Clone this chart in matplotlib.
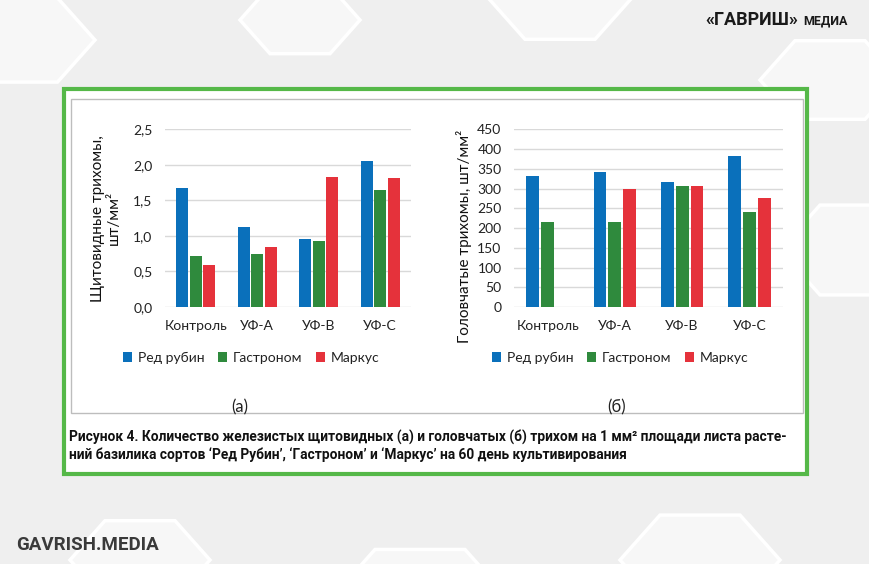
import numpy as np
import matplotlib
matplotlib.use('Agg')
import matplotlib.pyplot as plt
from matplotlib.patches import Rectangle, RegularPolygon

plt.rcParams['font.family'] = ['Lato', 'DejaVu Sans']

# data
categories = ['Контроль', 'УФ-А', 'УФ-В', 'УФ-С']
varieties = ['Ред рубин', 'Гастроном', 'Маркус']
colors = ['#0a70bb', '#2f8a3d', '#e5323b']

# (а) щитовидные трихомы, шт/мм2
peltate = {
    'Ред рубин': [1.67, 1.13, 0.95, 2.06],
    'Гастроном': [0.72, 0.75, 0.93, 1.65],
    'Маркус':    [0.59, 0.84, 1.83, 1.81],
}
# (б) головчатые трихомы, шт/мм2
capitate = {
    'Ред рубин': [333, 341, 316, 382],
    'Гастроном': [214, 214, 306, 241],
    'Маркус':    [0, 298, 307, 277],
}

left_ticks = [0, 0.5, 1.0, 1.5, 2.0, 2.5]
left_ticklabels = ['0,0', '0,5', '1,0', '1,5', '2,0', '2,5']
right_ticks = list(range(0, 451, 50))

caption1 = ('Рисунок 4. Количество железистых щитовидных (а) и головчатых (б) трихом на 1 мм² '
            'площади листа расте-')
caption2 = 'ний базилика сортов ‘Ред Рубин’, ‘Гастроном’ и ‘Маркус’ на 60 день культивирования'

fig = plt.figure(figsize=(8.7, 5.64), dpi=100)
fig.patch.set_facecolor('#efefef')
W, H = 870, 564

def fx(x):
    return x / W

def fy(y):
    return 1 - y / H

# faint hexagon background
for cx, cy, r in [(20, 40, 75), (830, 80, 70), (860, 250, 80), (140, 560, 70),
                  (420, 600, 90), (700, 560, 80), (300, 20, 60), (560, 0, 70)]:
    fig.patches.append(RegularPolygon((fx(cx), fy(cy)), 6, radius=r / W,
                                      orientation=np.pi / 6, transform=fig.transFigure,
                                      facecolor='#f7f7f7', edgecolor='#ffffff', lw=2.5,
                                      zorder=0))

# green frame and white panel
fig.patches.append(Rectangle((fx(64), fy(474)), (807 - 64) / W, (474 - 89) / H,
                             transform=fig.transFigure, facecolor='white',
                             edgecolor='#55b848', lw=3, zorder=1))
fig.patches.append(Rectangle((fx(71), fy(413)), (803 - 71) / W, (413 - 99) / H,
                             transform=fig.transFigure, facecolor='white',
                             edgecolor='#bdbdbd', lw=1, zorder=2))

def draw(ax, data, ticks, ticklabels, top):
    x = np.arange(len(categories))
    for i, name in enumerate(varieties):
        ax.bar(x + (i - 1) * 0.22, data[name], width=0.19, color=colors[i],
               label=name, zorder=3)
    ax.set_xlim(-0.5, len(categories) - 0.5)
    ax.set_ylim(0, top)
    ax.set_yticks(ticks)
    ax.set_yticklabels(ticklabels)
    ax.set_xticks(x)
    ax.set_xticklabels(categories)
    ax.grid(axis='y', color='#d9d9d9', lw=1, zorder=0)
    ax.set_axisbelow(True)
    for s in ax.spines.values():
        s.set_visible(False)
    ax.tick_params(length=0, labelsize=10, colors='#222222')
    ax.tick_params(axis='y', pad=9)
    ax.tick_params(axis='x', pad=9)
    ax.set_facecolor('none')
    ax.set_zorder(5)

ax1 = fig.add_axes([fx(165), fy(307), (411 - 165) / W, (307 - 129.3) / H])
draw(ax1, peltate, left_ticks, left_ticklabels, 2.5)
ax1.set_ylabel('Щитовидные трихомы,\nшт/мм²', fontsize=11, color='#111111')
ax1.yaxis.set_label_coords(-0.18, 0.5)

ax2 = fig.add_axes([fx(514), fy(307), (783 - 514) / W, (307 - 129.3) / H])
draw(ax2, capitate, right_ticks, [str(t) for t in right_ticks], 450)
ax2.set_ylabel('Головчатые трихомы, шт/мм²', fontsize=11, color='#111111')
ax2.yaxis.set_label_coords(-0.155, 0.4)

for ax, cx in [(ax1, 251), (ax2, 620)]:
    ax.legend(loc='center', bbox_to_anchor=(fx(cx), fy(358)), bbox_transform=fig.transFigure,
              ncol=3, frameon=False, fontsize=10, handlelength=0.7, handleheight=0.7,
              handletextpad=0.4, columnspacing=0.95, labelcolor='#222222')

fig.text(fx(240), fy(407), '(а)', fontsize=12, ha='center', va='center', color='#222222',
         zorder=6)
fig.text(fx(617), fy(407), '(б)', fontsize=12, ha='center', va='center', color='#222222',
         zorder=6)

fig.text(fx(69), fy(437), caption1, fontsize=9.9, fontweight='bold', ha='left', va='center',
         color='#111111', family=['Roboto', 'DejaVu Sans'], zorder=6)
fig.text(fx(69), fy(455), caption2, fontsize=9.9, fontweight='bold', ha='left', va='center',
         color='#111111', family=['Roboto', 'DejaVu Sans'], zorder=6)

fig.text(fx(798), fy(20), '«ГАВРИШ»', fontsize=13, fontweight='bold', ha='right', va='center',
         color='#1a1a1a', family=['Roboto', 'DejaVu Sans'])
fig.text(fx(803), fy(21), 'МЕДИА', fontsize=9, fontweight='bold', ha='left', va='center',
         color='#1a1a1a', family=['Roboto', 'DejaVu Sans'])
fig.text(fx(16), fy(545), 'GAVRISH.MEDIA', fontsize=13.5, fontweight='bold', ha='left',
         va='center', color='#3a3a3a', family=['Roboto', 'DejaVu Sans'])

fig.savefig('out.png', dpi=100, facecolor=fig.get_facecolor())
